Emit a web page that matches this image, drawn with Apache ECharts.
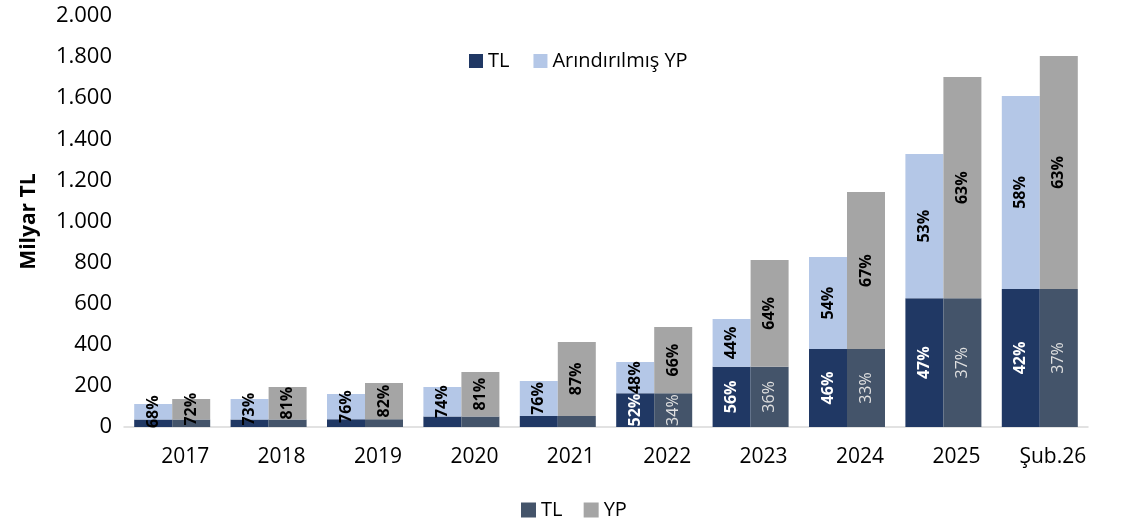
<!DOCTYPE html>
<html>
<head>
<meta charset="utf-8">
<script src="https://cdn.jsdelivr.net/npm/echarts@6/dist/echarts.min.js"></script>
<style>
  html, body { margin: 0; padding: 0; background: #fff; }
  #chart { width: 1124px; height: 522px; }
</style>
</head>
<body>
<div id="chart"></div>
<script>
const categories = ["2017", "2018", "2019", "2020", "2021", "2022", "2023", "2024", "2025", "Şub.26"];

// milyar TL
const tl = [37, 37, 38, 51, 54, 164, 293, 379, 626, 672];
const arindirilmisYp = [75, 99, 122, 144, 170, 152, 232, 448, 702, 939];
const yp = [99, 158, 176, 217, 360, 323, 520, 764, 1077, 1133];

// shares shown on the bars (null = no label)
const tlShareLeft = [null, null, null, null, null, 52, 56, 46, 47, 42];
const aypShare = [68, 73, 76, 74, 76, 48, 44, 54, 53, 58];
const tlShareRight = [null, null, null, null, null, 34, 36, 33, 37, 37];
const ypShare = [72, 81, 82, 81, 87, 66, 64, 67, 63, 63];

const yTicks = [0, 200, 400, 600, 800, 1000, 1200, 1400, 1600, 1800, 2000];

const font = "'Open Sans', 'Noto Sans', sans-serif";
const colors = {
  navy: "#203864",
  lightBlue: "#b4c7e7",
  slate: "#44546a",
  grey: "#a5a5a5",
  axis: "#d9d9d9",
};

function shareLabel(shares, color, weight) {
  return {
    show: true,
    position: "inside",
    rotate: 90,
    color,
    fontFamily: font,
    fontSize: 16,
    fontWeight: weight,
    formatter: (p) => (shares[p.dataIndex] == null ? "" : `${shares[p.dataIndex]}%`),
  };
}

const chart = echarts.init(document.getElementById("chart"), null, { renderer: "canvas" });

chart.setOption({
  animation: false,
  backgroundColor: "#fff",
  textStyle: { fontFamily: font, color: "#000" },
  grid: { left: 124, right: 36, top: 16, bottom: 95 },
  legend: [
    {
      data: ["TL", "Arındırılmış YP"],
      top: 46,
      left: 464,
      itemWidth: 14,
      itemHeight: 14,
      itemGap: 24,
      icon: "rect",
      textStyle: { fontSize: 20, color: "#000", fontFamily: font },
    },
    {
      data: ["TL ", "YP"],
      top: 495,
      left: 516,
      itemWidth: 15,
      itemHeight: 15,
      itemGap: 16,
      icon: "rect",
      textStyle: { fontSize: 20, color: "#000", fontFamily: font },
    },
  ],
  xAxis: {
    type: "category",
    data: categories,
    axisLine: { lineStyle: { color: colors.axis, width: 1.5 } },
    axisTick: { show: false },
    axisLabel: {
      color: "#000",
      fontSize: 21,
      margin: 20,
      padding: [0, 0, 0, 26],
    },
  },
  yAxis: {
    type: "value",
    min: yTicks[0],
    max: yTicks[yTicks.length - 1],
    interval: 200,
    name: "Milyar TL",
    nameLocation: "middle",
    nameGap: 84,
    nameTextStyle: { fontSize: 21, fontWeight: "bold", color: "#000" },
    axisLine: { show: false },
    axisTick: { show: false },
    splitLine: { show: false },
    axisLabel: {
      color: "#000",
      fontSize: 22,
      margin: 12,
      formatter: (v) => v.toLocaleString("de-DE"),
    },
  },
  series: [
    {
      name: "TL",
      type: "bar",
      stack: "arindirilmis",
      data: tl,
      barWidth: 38,
      barGap: "0%",
      itemStyle: { color: colors.navy },
      label: shareLabel(tlShareLeft, "#fff", "bold"),
    },
    {
      name: "Arındırılmış YP",
      type: "bar",
      stack: "arindirilmis",
      data: arindirilmisYp,
      barWidth: 38,
      itemStyle: { color: colors.lightBlue },
      label: shareLabel(aypShare, "#000", "bold"),
    },
    {
      name: "TL ",
      type: "bar",
      stack: "toplam",
      data: tl,
      barWidth: 38,
      barGap: "0%",
      itemStyle: { color: colors.slate },
      label: shareLabel(tlShareRight, "#e0e0e0", "normal"),
    },
    {
      name: "YP",
      type: "bar",
      stack: "toplam",
      data: yp,
      barWidth: 38,
      itemStyle: { color: colors.grey },
      label: shareLabel(ypShare, "#000", "bold"),
    },
  ],
});
</script>
</body>
</html>
